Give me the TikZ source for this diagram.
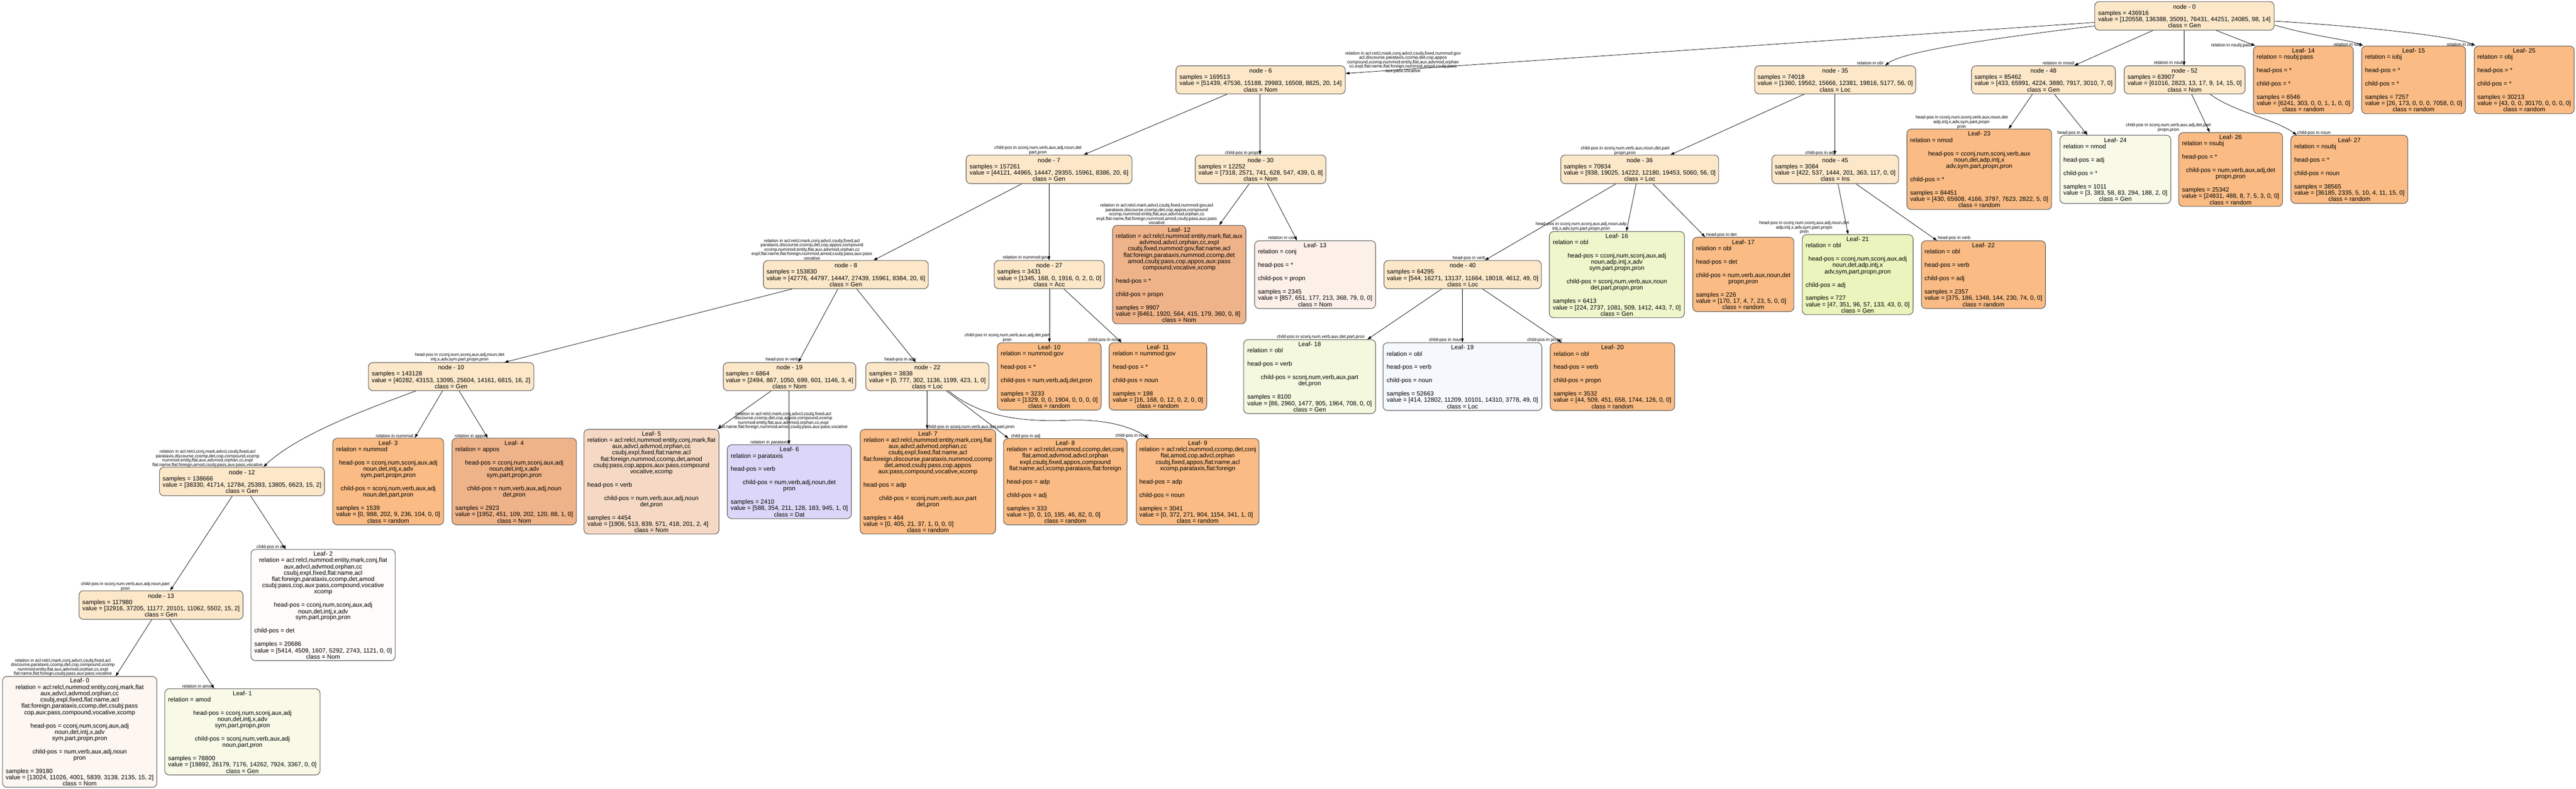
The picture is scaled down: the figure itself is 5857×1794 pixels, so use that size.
\documentclass[tikz,border=0pt]{standalone}
\usepackage{fontspec}
\setmainfont{Liberation Sans}
\usetikzlibrary{arrows.meta}
\definecolor{cnode}{HTML}{FDE7C9}
\definecolor{crand}{HTML}{FBBB84}
\definecolor{cnomA}{HTML}{EFB389}
\definecolor{cnomB}{HTML}{F6D9C4}
\definecolor{cnomC}{HTML}{FDF0E8}
\definecolor{cnomD}{HTML}{FDF6F1}
\definecolor{cnomE}{HTML}{FEFCFA}
\definecolor{cdat}{HTML}{DCD6F8}
\definecolor{cgenA}{HTML}{F8FAE7}
\definecolor{cgenB}{HTML}{F4F8DE}
\definecolor{cgenC}{HTML}{EFF6CC}
\definecolor{cgenD}{HTML}{EAF4BC}
\definecolor{cloc}{HTML}{F5F9FD}
\newcommand\mc[1]{\multicolumn{1}{@{}c@{}}{#1}}
\tikzset{
  tbox/.style={draw=black!65, line width=1.3pt, rounded corners=10pt, anchor=north west,
    inner sep=0pt, font=\fontsize{14}{14}\selectfont, text=black},
  elab/.style={font=\fontsize{10}{10}\selectfont, align=center, inner sep=0pt, text=black},
  conn/.style={-{Triangle[length=9pt,width=6pt]}, line width=0.9pt, black},
}
\newcommand\nbox[7]{\node[tbox,fill=#6,minimum width=#4pt,minimum height=#5pt] (#1) at (#2,#3) {\raisebox{-2.5pt}[\height][\depth]{\begin{tabular}{@{}l@{}}#7\end{tabular}}};}
\begin{document}
\begin{tikzpicture}[x=1pt,y=-1pt]
\useasboundingbox (0,0) rectangle (5857,1794);
\fill[white] (0,0) rectangle (5857,1794);
% ---------- internal nodes ----------
\nbox{n0}{4762}{3}{408}{65}{cnode}{\mc{node - 0}\\ samples = 436916\\ value = [120558, 136388, 35091, 76431, 44251, 24085, 98, 14]\\ \mc{class = Gen}}
\nbox{n6}{2673}{149}{385}{64}{cnode}{\mc{node - 6}\\ samples = 169513\\ value = [51439, 47536, 15188, 29983, 16508, 8825, 20, 14]\\ \mc{class = Nom}}
\nbox{n35}{3989}{149}{366}{64}{cnode}{\mc{node - 35}\\ samples = 74018\\ value = [1360, 19562, 15666, 12381, 19816, 5177, 56, 0]\\ \mc{class = Loc}}
\nbox{n48}{4482}{149}{327}{64}{cnode}{\mc{node - 48}\\ samples = 85462\\ value = [433, 65991, 4224, 3880, 7917, 3010, 7, 0]\\ \mc{class = Gen}}
\nbox{n52}{4829}{149}{275}{64}{cnode}{\mc{node - 52}\\ samples = 63907\\ value = [61016, 2823, 13, 17, 9, 14, 15, 0]\\ \mc{class = Nom}}
\nbox{n7}{2196}{352}{377}{65}{cnode}{\mc{node - 7}\\ samples = 157261\\ value = [44121, 44965, 14447, 29355, 15961, 8386, 20, 6]\\ \mc{class = Gen}}
\nbox{n30}{2717}{352}{297}{65}{cnode}{\mc{node - 30}\\ samples = 12252\\ value = [7318, 2571, 741, 628, 547, 439, 0, 8]\\ \mc{class = Nom}}
\nbox{n36}{3548}{352}{359}{65}{cnode}{\mc{node - 36}\\ samples = 70934\\ value = [938, 19025, 14222, 12180, 19453, 5060, 56, 0]\\ \mc{class = Loc}}
\nbox{n45}{4028}{352}{288}{65}{cnode}{\mc{node - 45}\\ samples = 3084\\ value = [422, 537, 1444, 201, 363, 117, 0, 0]\\ \mc{class = Ins}}
\nbox{n8}{1735}{592}{375}{64}{cnode}{\mc{node - 8}\\ samples = 153830\\ value = [42776, 44797, 14447, 27439, 15961, 8384, 20, 6]\\ \mc{class = Gen}}
\nbox{n27}{2260}{592}{250}{64}{cnode}{\mc{node - 27}\\ samples = 3431\\ value = [1345, 168, 0, 1916, 0, 2, 0, 0]\\ \mc{class = Acc}}
\nbox{n40}{3146}{592}{358}{64}{cnode}{\mc{node - 40}\\ samples = 64295\\ value = [544, 16271, 13137, 11664, 18018, 4612, 49, 0]\\ \mc{class = Loc}}
\nbox{n10}{837}{824}{376}{64}{cnode}{\mc{node - 10}\\ samples = 143128\\ value = [40282, 43153, 13095, 25604, 14161, 6815, 16, 2]\\ \mc{class = Gen}}
\nbox{n19}{1644}{824}{301}{64}{cnode}{\mc{node - 19}\\ samples = 6864\\ value = [2494, 867, 1050, 699, 601, 1146, 3, 4]\\ \mc{class = Nom}}
\nbox{n22}{1968}{824}{280}{64}{cnode}{\mc{node - 22}\\ samples = 3838\\ value = [0, 777, 302, 1136, 1199, 423, 1, 0]\\ \mc{class = Loc}}
\nbox{n12}{362}{1062}{375}{65}{cnode}{\mc{node - 12}\\ samples = 138666\\ value = [38330, 41714, 12784, 25393, 13805, 6623, 15, 2]\\ \mc{class = Gen}}
\nbox{n13}{179}{1343}{373}{65}{cnode}{\mc{node - 13}\\ samples = 117980\\ value = [32916, 37205, 11177, 20101, 11062, 5502, 15, 2]\\ \mc{class = Gen}}
% ---------- leaves ----------
\nbox{L0}{5}{1538}{351}{252}{cnomD}{\mc{Leaf- 0}\\ \mc{relation = acl:relcl,nummod:entity,conj,mark,flat}\\ \mc{aux,advcl,advmod,orphan,cc}\\ \mc{csubj,expl,fixed,flat:name,acl}\\ \mc{flat:foreign,parataxis,ccomp,det,csubj:pass}\\ \mc{cop,aux:pass,compound,vocative,xcomp}\\[16pt] \mc{head-pos = cconj,num,sconj,aux,adj}\\ \mc{noun,det,intj,x,adv}\\ \mc{sym,part,propn,pron}\\[16pt] \mc{child-pos = num,verb,aux,adj,noun}\\ \mc{pron}\\[16pt] samples = 39180\\ value = [13024, 11026, 4001, 5839, 3138, 2135, 15, 2]\\ \mc{class = Nom}}
\nbox{L1}{374}{1566}{353}{196}{cgenA}{\mc{Leaf- 1}\\ relation = amod\\[16pt] \mc{head-pos = cconj,num,sconj,aux,adj}\\ \mc{noun,det,intj,x,adv}\\ \mc{sym,part,propn,pron}\\[16pt] \mc{child-pos = sconj,num,verb,aux,adj}\\ \mc{noun,part,pron}\\[16pt] samples = 78800\\ value = [19892, 26179, 7176, 14262, 7924, 3367, 0, 0]\\ \mc{class = Gen}}
\nbox{L2}{570}{1249}{328}{253}{cnomE}{\mc{Leaf- 2}\\ \mc{relation = acl:relcl,nummod:entity,mark,conj,flat}\\ \mc{aux,advcl,advmod,orphan,cc}\\ \mc{csubj,expl,fixed,flat:name,acl}\\ \mc{flat:foreign,parataxis,ccomp,det,amod}\\ \mc{csubj:pass,cop,aux:pass,compound,vocative}\\ \mc{xcomp}\\[16pt] \mc{head-pos = cconj,num,sconj,aux,adj}\\ \mc{noun,det,intj,x,adv}\\ \mc{sym,part,propn,pron}\\[16pt] child-pos = det\\[16pt] samples = 20686\\ value = [5414, 4509, 1607, 5292, 2743, 1121, 0, 0]\\ \mc{class = Nom}}
\nbox{L3}{756}{996}{252}{197}{crand}{\mc{Leaf- 3}\\ relation = nummod\\[16pt] \mc{head-pos = cconj,num,sconj,aux,adj}\\ \mc{noun,det,intj,x,adv}\\ \mc{sym,part,propn,pron}\\[16pt] \mc{child-pos = sconj,num,verb,aux,adj}\\ \mc{noun,det,part,pron}\\[16pt] samples = 1539\\ value = [0, 988, 202, 9, 236, 104, 0, 0]\\ \mc{class = random}}
\nbox{L4}{1027}{996}{283}{197}{cnomA}{\mc{Leaf- 4}\\ relation = appos\\[16pt] \mc{head-pos = cconj,num,sconj,aux,adj}\\ \mc{noun,det,intj,x,adv}\\ \mc{sym,part,propn,pron}\\[16pt] \mc{child-pos = num,verb,aux,adj,noun}\\ \mc{det,pron}\\[16pt] samples = 2923\\ value = [1952, 451, 109, 202, 120, 88, 1, 0]\\ \mc{class = Nom}}
\nbox{L5}{1327}{976}{307}{238}{cnomB}{\mc{Leaf- 5}\\ \mc{relation = acl:relcl,nummod:entity,conj,mark,flat}\\ \mc{aux,advcl,advmod,orphan,cc}\\ \mc{csubj,expl,fixed,flat:name,acl}\\ \mc{flat:foreign,nummod,ccomp,det,amod}\\ \mc{csubj:pass,cop,appos,aux:pass,compound}\\ \mc{vocative,xcomp}\\[16pt] head-pos = verb\\[16pt] \mc{child-pos = num,verb,aux,adj,noun}\\ \mc{det,pron}\\[16pt] samples = 4454\\ value = [1906, 513, 839, 571, 418, 201, 2, 4]\\ \mc{class = Nom}}
\nbox{L6}{1653}{1011}{282}{168}{cdat}{\mc{Leaf- 6}\\ relation = parataxis\\[16pt] head-pos = verb\\[16pt] \mc{child-pos = num,verb,adj,noun,det}\\ \mc{pron}\\[16pt] samples = 2410\\ value = [588, 354, 211, 128, 183, 945, 1, 0]\\ \mc{class = Dat}}
\nbox{L7}{1955}{976}{308}{238}{crand}{\mc{Leaf- 7}\\ \mc{relation = acl:relcl,nummod:entity,mark,conj,flat}\\ \mc{aux,advcl,advmod,orphan,cc}\\ \mc{csubj,expl,fixed,flat:name,acl}\\ \mc{flat:foreign,discourse,parataxis,nummod,ccomp}\\ \mc{det,amod,csubj:pass,cop,appos}\\ \mc{aux:pass,compound,vocative,xcomp}\\[16pt] head-pos = adp\\[16pt] \mc{child-pos = sconj,num,verb,aux,part}\\ \mc{det,pron}\\[16pt] samples = 464\\ value = [0, 405, 21, 37, 1, 0, 0, 0]\\ \mc{class = random}}
\nbox{L8}{2281}{997}{281}{196}{crand}{\mc{Leaf- 8}\\ \mc{relation = acl:relcl,nummod,ccomp,det,conj}\\ \mc{flat,amod,advmod,advcl,orphan}\\ \mc{expl,csubj,fixed,appos,compound}\\ \mc{flat:name,acl,xcomp,parataxis,flat:foreign}\\[16pt] head-pos = adp\\[16pt] child-pos = adj\\[16pt] samples = 333\\ value = [0, 0, 10, 195, 46, 82, 0, 0]\\ \mc{class = random}}
\nbox{L9}{2583}{997}{279}{196}{crand}{\mc{Leaf- 9}\\ \mc{relation = acl:relcl,nummod,ccomp,det,conj}\\ \mc{flat,amod,cop,advcl,orphan}\\ \mc{csubj,fixed,appos,flat:name,acl}\\ \mc{xcomp,parataxis,flat:foreign}\\[16pt] head-pos = adp\\[16pt] child-pos = noun\\[16pt] samples = 3041\\ value = [0, 372, 271, 904, 1154, 341, 1, 0]\\ \mc{class = random}}
\nbox{L10}{2267}{779}{236}{153}{crand}{\mc{Leaf- 10}\\ relation = nummod:gov\\[16pt] head-pos = *\\[16pt] child-pos = num,verb,adj,det,pron\\[16pt] samples = 3233\\ value = [1329, 0, 0, 1904, 0, 0, 0, 0]\\ \mc{class = random}}
\nbox{L11}{2521}{779}{222}{153}{crand}{\mc{Leaf- 11}\\ relation = nummod:gov\\[16pt] head-pos = *\\[16pt] child-pos = noun\\[16pt] samples = 198\\ value = [16, 168, 0, 12, 0, 2, 0, 0]\\ \mc{class = random}}
\nbox{L12}{2529}{512}{303}{224}{cnomA}{\mc{Leaf- 12}\\ \mc{relation = acl:relcl,nummod:entity,mark,flat,aux}\\ \mc{advmod,advcl,orphan,cc,expl}\\ \mc{csubj,fixed,nummod:gov,flat:name,acl}\\ \mc{flat:foreign,parataxis,nummod,ccomp,det}\\ \mc{amod,csubj:pass,cop,appos,aux:pass}\\ \mc{compound,vocative,xcomp}\\[16pt] head-pos = *\\[16pt] child-pos = propn\\[16pt] samples = 9907\\ value = [6461, 1920, 564, 415, 179, 360, 0, 8]\\ \mc{class = Nom}}
\nbox{L13}{2852}{547}{275}{154}{cnomC}{\mc{Leaf- 13}\\ relation = conj\\[16pt] head-pos = *\\[16pt] child-pos = propn\\[16pt] samples = 2345\\ value = [857, 651, 177, 213, 368, 79, 0, 0]\\ \mc{class = Nom}}
\nbox{L14}{5123}{104}{227}{154}{crand}{\mc{Leaf- 14}\\ relation = nsubj:pass\\[16pt] head-pos = *\\[16pt] child-pos = *\\[16pt] samples = 6546\\ value = [6241, 303, 0, 0, 1, 1, 0, 0]\\ \mc{class = random}}
\nbox{L15}{5369}{104}{236}{154}{crand}{\mc{Leaf- 15}\\ relation = iobj\\[16pt] head-pos = *\\[16pt] child-pos = *\\[16pt] samples = 7257\\ value = [26, 173, 0, 0, 0, 7058, 0, 0]\\ \mc{class = random}}
\nbox{L25}{5625}{104}{227}{154}{crand}{\mc{Leaf- 25}\\ relation = obj\\[16pt] head-pos = *\\[16pt] child-pos = *\\[16pt] samples = 30213\\ value = [43, 0, 0, 30170, 0, 0, 0, 0]\\ \mc{class = random}}
\nbox{L16}{3522}{526}{307}{196}{cgenC}{\mc{Leaf- 16}\\ relation = obl\\[16pt] \mc{head-pos = cconj,num,sconj,aux,adj}\\ \mc{noun,adp,intj,x,adv}\\ \mc{sym,part,propn,pron}\\[16pt] \mc{child-pos = sconj,num,verb,aux,noun}\\ \mc{det,part,propn,pron}\\[16pt] samples = 6413\\ value = [224, 2737, 1081, 509, 1412, 443, 7, 0]\\ \mc{class = Gen}}
\nbox{L17}{3848}{539}{230}{169}{crand}{\mc{Leaf- 17}\\ relation = obl\\[16pt] head-pos = det\\[16pt] \mc{child-pos = num,verb,aux,noun,det}\\ \mc{propn,pron}\\[16pt] samples = 226\\ value = [170, 17, 4, 7, 23, 5, 0, 0]\\ \mc{class = random}}
\nbox{L18}{2827}{772}{300}{168}{cgenB}{\mc{Leaf- 18}\\ relation = obl\\[16pt] head-pos = verb\\[16pt] \mc{child-pos = sconj,num,verb,aux,part}\\ \mc{det,pron}\\[16pt] samples = 8100\\ value = [86, 2960, 1477, 905, 1964, 708, 0, 0]\\ \mc{class = Gen}}
\nbox{L19}{3144}{779}{361}{154}{cloc}{\mc{Leaf- 19}\\ relation = obl\\[16pt] head-pos = verb\\[16pt] child-pos = noun\\[16pt] samples = 52663\\ value = [414, 12802, 11209, 10101, 14310, 3778, 49, 0]\\ \mc{class = Loc}}
\nbox{L20}{3524}{779}{283}{154}{crand}{\mc{Leaf- 20}\\ relation = obl\\[16pt] head-pos = verb\\[16pt] child-pos = propn\\[16pt] samples = 3532\\ value = [44, 509, 451, 658, 1744, 126, 0, 0]\\ \mc{class = random}}
\nbox{L21}{4097}{533}{252}{182}{cgenD}{\mc{Leaf- 21}\\ relation = obl\\[16pt] \mc{head-pos = cconj,num,sconj,aux,adj}\\ \mc{noun,det,adp,intj,x}\\ \mc{adv,sym,part,propn,pron}\\[16pt] child-pos = adj\\[16pt] samples = 727\\ value = [47, 351, 96, 57, 133, 43, 0, 0]\\ \mc{class = Gen}}
\nbox{L22}{4368}{547}{282}{154}{crand}{\mc{Leaf- 22}\\ relation = obl\\[16pt] head-pos = verb\\[16pt] child-pos = adj\\[16pt] samples = 2357\\ value = [375, 186, 1348, 144, 230, 74, 0, 0]\\ \mc{class = random}}
\nbox{L23}{4335}{293}{329}{183}{crand}{\mc{Leaf- 23}\\ relation = nmod\\[16pt] \mc{head-pos = cconj,num,sconj,verb,aux}\\ \mc{noun,det,adp,intj,x}\\ \mc{adv,sym,part,propn,pron}\\[16pt] child-pos = *\\[16pt] samples = 84451\\ value = [430, 65608, 4166, 3797, 7623, 2822, 5, 0]\\ \mc{class = random}}
\nbox{L24}{4683}{307}{252}{155}{cgenA}{\mc{Leaf- 24}\\ relation = nmod\\[16pt] head-pos = adj\\[16pt] child-pos = *\\[16pt] samples = 1011\\ value = [3, 383, 58, 83, 294, 188, 2, 0]\\ \mc{class = Gen}}
\nbox{L26}{4953}{301}{236}{168}{crand}{\mc{Leaf- 26}\\ relation = nsubj\\[16pt] head-pos = *\\[16pt] \mc{child-pos = num,verb,aux,adj,det}\\ \mc{propn,pron}\\[16pt] samples = 25342\\ value = [24831, 488, 8, 7, 5, 3, 0, 0]\\ \mc{class = random}}
\nbox{L27}{5208}{307}{266}{155}{crand}{\mc{Leaf- 27}\\ relation = nsubj\\[16pt] head-pos = *\\[16pt] child-pos = noun\\[16pt] samples = 38565\\ value = [36185, 2335, 5, 10, 4, 11, 15, 0]\\ \mc{class = random}}
% ---------- connectors ----------
\draw[conn] (n0.west |- 0,51) -- (n6.east |- 0,167);
\draw[conn] (n0.west |- 0,59) .. controls (4550,85) and (4330,115) .. (n35.north -| 4286,0);
\draw[conn] (n0.south -| 4895,0) -- (n48.north -| 4716,0);
\draw[conn] (n0.south -| 4966,0) -- (n52.north -| 4966,0);
\draw[conn] (n0.south -| 5039,0) -- (L14.north -| 5128,0);
\draw[conn] (n0.east |- 0,57) .. controls (5270,85) and (5340,90) .. (L15.north -| 5373,0);
\draw[conn] (n0.east |- 0,48) .. controls (5400,62) and (5590,85) .. (L25.north -| 5628,0);
\draw[conn] (n48.south -| 4621,0) -- (L23.north -| 4567,0);
\draw[conn] (n48.south -| 4671,0) -- (L24.north -| 4746,0);
\draw[conn] (n52.south -| 4983,0) -- (L26.north -| 5024,0);
\draw[conn] (n52.south -| 5025,0) .. controls (5080,255) and (5170,270) .. (L27.north -| 5222,0);
\draw[conn] (n6.south -| 2790,0) -- (n7.north -| 2464,0);
\draw[conn] (n6.south -| 2865,0) -- (n30.north -| 2865,0);
\draw[conn] (n35.south -| 4102,0) -- (n36.north -| 3798,0);
\draw[conn] (n35.south -| 4172,0) -- (n45.north -| 4172,0);
\draw[conn] (n36.south -| 3674,0) -- (n40.north -| 3376,0);
\draw[conn] (n36.south -| 3720,0) -- (L16.north -| 3698,0);
\draw[conn] (n36.south -| 3758,0) -- (L17.north -| 3877,0);
\draw[conn] (n45.south -| 4179,0) -- (L21.north -| 4202,0);
\draw[conn] (n45.south -| 4220,0) -- (L22.north -| 4404,0);
\draw[conn] (n40.south -| 3278,0) -- (L18.north -| 3109,0);
\draw[conn] (n40.south -| 3325,0) -- (L19.north -| 3325,0);
\draw[conn] (n40.south -| 3371,0) -- (L20.north -| 3551,0);
\draw[conn] (n7.south -| 2323,0) -- (n8.north -| 1986,0);
\draw[conn] (n7.south -| 2385,0) -- (n27.north -| 2385,0);
\draw[conn] (n30.south -| 2840,0) -- (L12.north -| 2772,0);
\draw[conn] (n30.south -| 2882,0) -- (L13.north -| 2949,0);
\draw[conn] (n27.south -| 2386,0) -- (L10.north -| 2386,0);
\draw[conn] (n27.south -| 2419,0) -- (L11.north -| 2550,0);
\draw[conn] (n8.south -| 1801,0) -- (n10.north -| 1147,0);
\draw[conn] (n8.south -| 1905,0) -- (n19.north -| 1815,0);
\draw[conn] (n8.south -| 1948,0) -- (n22.north -| 2082,0);
\draw[conn] (n19.south -| 1753,0) -- (L5.north -| 1631,0);
\draw[conn] (n19.south -| 1794,0) -- (L6.north -| 1794,0);
\draw[conn] (n22.south -| 2108,0) -- (L7.north -| 2108,0);
\draw[conn] (n22.south -| 2152,0) -- (L8.north -| 2293,0);
\draw[conn] (n22.south -| 2157,0) .. controls (2230,950) and (2330,960) .. (2430,956) .. controls (2520,952) and (2580,975) .. (L9.north -| 2611,0);
\draw[conn] (n10.south -| 945,0) .. controls (850,925) and (680,985) .. (n12.north -| 599,0);
\draw[conn] (n10.south -| 1006,0) -- (L3.north -| 943,0);
\draw[conn] (n10.south -| 1044,0) -- (L4.north -| 1109,0);
\draw[conn] (n12.south -| 528,0) -- (n13.north -| 387,0);
\draw[conn] (n12.south -| 570,0) -- (L2.north -| 649,0);
\draw[conn] (n13.south -| 345,0) -- (L0.north -| 263,0);
\draw[conn] (n13.south -| 386,0) -- (L1.north -| 487,0);
% ---------- connector labels ----------
\node[elab] (e6) at (3190,142) {relation in acl:relcl,mark,conj,advcl,csubj,fixed,nummod:gov\\acl,discourse,parataxis,ccomp,det,cop,appos\\compound,xcomp,nummod:entity,flat,aux,advmod,orphan\\cc,expl,flat:name,flat:foreign,nummod,amod,csubj:pass\\aux:pass,vocative};
\node[elab] (e35) at (4252,143) {relation in obl};
\node[elab] (e48) at (4680,143) {relation in nmod};
\node[elab] (e52) at (4932,143) {relation in nsubj};
\node[elab] (e14) at (5074,104) {relation in nsubj:pass};
\node[elab] (e15) at (5337,102) {relation in iobj};
\node[elab] (e25) at (5593,102) {relation in obj};
\node[elab] (e23) at (4460,278) {head-pos in cconj,num,sconj,verb,aux,noun,det\\adp,intj,x,adv,sym,part,propn\\pron};
\node[elab] (e24) at (4712,302) {head-pos in adj};
\node[elab] (e26) at (4930,290) {child-pos in sconj,num,verb,aux,adj,det,part\\propn,pron};
\node[elab] (e27) at (5261,302) {child-pos in noun};
\node[elab] (e7) at (2360,342) {child-pos in sconj,num,verb,aux,adj,noun,det\\part,pron};
\node[elab] (e30) at (2825,348) {child-pos in propn};
\node[elab] (e36) at (3695,343) {child-pos in sconj,num,verb,aux,noun,det,part\\propn,pron};
\node[elab] (e45) at (4138,348) {child-pos in adj};
\node[elab] (e8) at (1846,567) {relation in acl:relcl,mark,conj,advcl,csubj,fixed,acl\\parataxis,discourse,ccomp,det,cop,appos,compound\\xcomp,nummod:entity,flat,aux,advmod,orphan,cc\\expl,flat:name,flat:foreign,nummod,amod,csubj:pass,aux:pass\\vocative};
\node[elab] (en27) at (2332,586) {relation in nummod:gov};
\node[elab] (e12) at (2630,487) {relation in acl:relcl,mark,advcl,csubj,fixed,nummod:gov,acl\\parataxis,discourse,ccomp,det,cop,appos,compound\\xcomp,nummod:entity,flat,aux,advmod,orphan,cc\\expl,flat:name,flat:foreign,nummod,amod,csubj:pass,aux:pass\\vocative};
\node[elab] (e13) at (2916,542) {relation in conj};
\node[elab] (e40) at (3340,587) {head-pos in verb};
\node[elab] (e16) at (3595,515) {head-pos in cconj,num,sconj,aux,adj,noun,adp\\intj,x,adv,sym,part,propn,pron};
\node[elab] (e17) at (3914,534) {head-pos in det};
\node[elab] (e21) at (4102,518) {head-pos in cconj,num,sconj,aux,adj,noun,det\\adp,intj,x,adv,sym,part,propn\\pron};
\node[elab] (e22) at (4443,542) {head-pos in verb};
\node[elab] (e18) at (3003,767) {child-pos in sconj,num,verb,aux,det,part,pron};
\node[elab] (e19) at (3287,773) {child-pos in noun};
\node[elab] (e20) at (3512,774) {child-pos in propn};
\node[elab] (e10) at (2290,768) {child-pos in sconj,num,verb,aux,adj,det,part\\pron};
\node[elab] (e11) at (2512,774) {child-pos in noun};
\node[elab] (en10) at (1045,813) {head-pos in cconj,num,sconj,aux,adj,noun,det\\intj,x,adv,sym,part,propn,pron};
\node[elab] (en19) at (1778,818) {head-pos in verb};
\node[elab] (en22) at (2047,818) {head-pos in adp};
\node[elab] (e5) at (1781,957) {relation in acl:relcl,mark,conj,advcl,csubj,fixed,acl\\discourse,ccomp,det,cop,appos,compound,xcomp\\nummod:entity,flat,aux,advmod,orphan,cc,expl\\flat:name,flat:foreign,nummod,amod,csubj:pass,aux:pass,vocative};
\node[elab] (el6) at (1750,1006) {relation in parataxis};
\node[elab] (el7) at (2207,971) {child-pos in sconj,num,verb,aux,det,part,pron};
\node[elab] (el8) at (2332,992) {child-pos in adj};
\node[elab] (el9) at (2574,991) {child-pos in noun};
\node[elab] (el3) at (897,992) {relation in nummod};
\node[elab] (el4) at (1071,992) {relation in appos};
\node[elab] (en12) at (472,1043) {relation in acl:relcl,conj,mark,advcl,csubj,fixed,acl\\parataxis,discourse,ccomp,det,cop,compound,xcomp\\nummod:entity,flat,aux,advmod,orphan,cc,expl\\flat:name,flat:foreign,amod,csubj:pass,aux:pass,vocative};
\node[elab] (el2) at (617,1244) {child-pos in det};
\node[elab] (en13) at (285,1334) {child-pos in sconj,num,verb,aux,adj,noun,part\\pron};
\node[elab] (el0) at (143,1518) {relation in acl:relcl,mark,conj,advcl,csubj,fixed,acl\\discourse,parataxis,ccomp,det,cop,compound,xcomp\\nummod:entity,flat,aux,advmod,orphan,cc,expl\\flat:name,flat:foreign,csubj:pass,aux:pass,vocative};
\node[elab] (el1) at (450,1561) {relation in amod};
\end{tikzpicture}
\end{document}
